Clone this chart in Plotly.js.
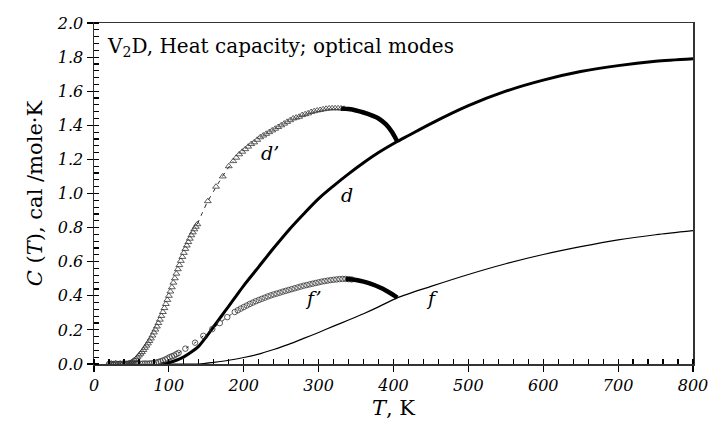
<!DOCTYPE html>
<html><head><meta charset="utf-8">
<script src="https://cdn.plot.ly/plotly-3.0.1.min.js"></script>
<style>html,body{margin:0;padding:0;background:#fff}#plot{width:710px;height:424px}</style>
</head><body><div id="plot"></div>
<script>
// d : thick solid curve
var dT = [90,100,110,120,130,140,150,160,170,180,190,200,220,240,260,280,300,320,340,360,380,405,420,450,500,550,600,650,700,750,800];
var dC = [0,0.008,0.022,0.042,0.07,0.105,0.16,0.22,0.28,0.34,0.40,0.46,0.57,0.68,0.785,0.88,0.97,1.045,1.115,1.18,1.24,1.305,1.34,1.41,1.515,1.60,1.665,1.715,1.75,1.775,1.79];
// f : thin solid curve
var fT = [100,140,160,180,200,220,240,260,280,300,320,340,360,380,405,450,500,550,600,650,700,750,800];
var fC = [0,0,0.01,0.022,0.038,0.058,0.085,0.115,0.15,0.185,0.222,0.258,0.295,0.335,0.388,0.455,0.525,0.588,0.642,0.688,0.728,0.758,0.782];
// d' : triangles
var dpTriT = [20,23,26,29,32,35,38,41,44,46,48,50,52,54,56,58,60,62,64,66,68,70,72,74,76,78,80,82,84,86,88,90,92,94,96,98,100,102,104,106,108,110,112,114,116,118,120,122,124,126,128,130,132,134,136,138,
  152,163,172,180,
  186,190,194,198,202,206,210,214,218,222,226,230,234,238,242,246,250,254,258,262,266,270,274,278,282,286,290,294,298,302,306,310,314,318,322,326,330,334];
var dpTriC = [0,0.002,0,0.003,0,0.002,0.001,0,0.002,0.003,0.006,0.01,0.016,0.023,0.03,0.04,0.05,0.06,0.07,0.082,0.095,0.108,0.121,0.135,0.15,0.167,0.185,0.202,0.22,0.24,0.26,0.282,0.305,0.328,0.352,0.376,0.40,0.425,0.45,0.477,0.503,0.53,0.556,0.58,0.605,0.628,0.652,0.675,0.695,0.715,0.735,0.755,0.772,0.79,0.805,0.82,
  0.955,1.04,1.10,1.16,
  1.19,1.21,1.23,1.245,1.26,1.275,1.29,1.30,1.315,1.33,1.34,1.35,1.36,1.37,1.38,1.39,1.40,1.41,1.42,1.43,1.44,1.445,1.45,1.46,1.465,1.47,1.478,1.483,1.487,1.49,1.494,1.497,1.499,1.50,1.50,1.50,1.499,1.497];
var dpDashT = [138,145,152,160,168,176,186];
var dpDashC = [0.82,0.89,0.955,1.015,1.075,1.13,1.19];
var dpTailT = [330,340,350,360,370,380,390,398,405];
var dpTailC = [1.499,1.495,1.487,1.475,1.46,1.44,1.405,1.36,1.305];
// f' : circles
var fpCirT = [20,23,26,29,32,35,38,41,44,47,50,53,56,59,62,65,68,71,74,77,80,83,86,89,92,95,98,101,104,107,110,113,
  122,135,146,158,168,178,
  188,192,196,200,204,208,212,216,220,224,228,232,236,240,244,248,252,256,260,264,268,272,276,280,284,288,292,296,300,304,308,312,316,320,324,328,332,336,340,344];
var fpCirC = [0,0.001,0,0.002,0,0.001,0,0.002,0,0.001,0.002,0,0.001,0.002,0.001,0.002,0.003,0.002,0.003,0.004,0.005,0.008,0.012,0.016,0.02,0.026,0.032,0.04,0.045,0.05,0.058,0.065,
  0.09,0.125,0.165,0.205,0.24,0.275,
  0.305,0.315,0.325,0.334,0.343,0.352,0.36,0.368,0.375,0.382,0.389,0.396,0.402,0.408,0.413,0.418,0.424,0.429,0.434,0.439,0.444,0.449,0.454,0.459,0.463,0.467,0.471,0.475,0.479,0.483,0.486,0.489,0.492,0.494,0.496,0.498,0.499,0.499,0.498,0.496];
var fpDotT = [113,122,135,146,158,168,178,188];
var fpDotC = [0.065,0.09,0.125,0.165,0.205,0.24,0.275,0.305];
var fpTailT = [336,345,355,365,375,385,395,405];
var fpTailC = [0.498,0.495,0.488,0.477,0.462,0.443,0.418,0.39];

var labelText = ["d’","d","f’","f"];
var labelT = [235,338,292,451];
var labelC = [1.24,0.99,0.39,0.39];

var serif = "DejaVu Serif, Liberation Serif, serif";
var sp = {shape:'spline',smoothing:0.8};
function ln(o){return Object.assign({},sp,o);}
var traces = [
  {x:dT,y:dC,mode:'lines',line:ln({color:'#000',width:3}),hoverinfo:'skip',showlegend:false},
  {x:fT,y:fC,mode:'lines',line:ln({color:'#000',width:1.2}),hoverinfo:'skip',showlegend:false},
  {x:dpDashT,y:dpDashC,mode:'lines',line:ln({color:'#222',width:1,dash:'4px,5px'}),hoverinfo:'skip',showlegend:false},
  {x:fpDotT,y:fpDotC,mode:'lines',line:ln({color:'#222',width:1,dash:'3px,6px'}),hoverinfo:'skip',showlegend:false},
  {x:dpTriT,y:dpTriC,mode:'markers',marker:{symbol:'triangle-up-open',size:6,color:'#333',line:{width:0.8,color:'#333'}},hoverinfo:'skip',showlegend:false},
  {x:fpCirT,y:fpCirC,mode:'markers',marker:{symbol:'circle-open',size:5.5,color:'#333',line:{width:0.8,color:'#333'}},hoverinfo:'skip',showlegend:false},
  {x:dpTailT,y:dpTailC,mode:'lines',line:ln({color:'#000',width:4.5}),hoverinfo:'skip',showlegend:false},
  {x:fpTailT,y:fpTailC,mode:'lines',line:ln({color:'#000',width:4.5}),hoverinfo:'skip',showlegend:false},
  {x:[0],y:[0],xaxis:'x2',yaxis:'y2',mode:'markers',marker:{opacity:0},hoverinfo:'skip',showlegend:false}
];

var annotations = labelText.map(function(t,i){
  return {x:labelT[i],y:labelC[i],xref:'x',yref:'y',text:t,showarrow:false,
    font:{family:serif,size:19,color:'#000',style:'italic'}};
});
annotations.push({x:15,y:1.86,xref:'x',yref:'y',xanchor:'left',yanchor:'middle',showarrow:false,
  text:'V<sub>2</sub>D, Heat capacity; optical modes',font:{family:serif,size:20,color:'#000'}});

var layout = {
  width:710,height:424,
  margin:{l:94,r:17,t:23,b:60},
  paper_bgcolor:'#fff',plot_bgcolor:'#fff',
  showlegend:false,
  xaxis:{range:[0,800],dtick:100,tick0:0,ticks:'outside',ticklen:6,tickwidth:1.2,tickcolor:'#000',
    showline:true,linewidth:1.5,linecolor:'#333',mirror:true,showgrid:false,zeroline:false,
    minor:{dtick:20,ticks:'inside',ticklen:5,tickwidth:1.2,tickcolor:'#000',showgrid:false},
    tickfont:{family:serif,size:16,color:'#000',style:'italic'},
    title:{text:'<i>T</i>, K',font:{family:serif,size:21,color:'#000'},standoff:6}},
  yaxis:{range:[0,2.0],dtick:0.2,tick0:0,tickformat:'.1f',ticks:'outside',ticklen:6,tickwidth:1.2,tickcolor:'#000',
    showline:true,linewidth:1.5,linecolor:'#333',mirror:true,showgrid:false,zeroline:false,
    minor:{dtick:0.04,ticks:'inside',ticklen:5,tickwidth:1.2,tickcolor:'#000',showgrid:false},
    tickfont:{family:serif,size:16,color:'#000',style:'italic'},
    title:{text:'<i>C</i> (<i>T</i>), cal /mole·K',font:{family:serif,size:21,color:'#000'},standoff:8}},
  xaxis2:{overlaying:'x',anchor:'y',range:[0,800],dtick:100,tick0:0,ticks:'inside',ticklen:5,tickwidth:1.2,tickcolor:'#000',
    showticklabels:false,showline:false,showgrid:false,zeroline:false},
  yaxis2:{overlaying:'y',anchor:'x',side:'left',range:[0,2.0],dtick:0.2,tick0:0,ticks:'inside',ticklen:5,tickwidth:1.2,tickcolor:'#000',
    showticklabels:false,showline:false,showgrid:false,zeroline:false},
  annotations:annotations
};
Plotly.newPlot('plot',traces,layout,{staticPlot:true,displayModeBar:false});
</script></body></html>
